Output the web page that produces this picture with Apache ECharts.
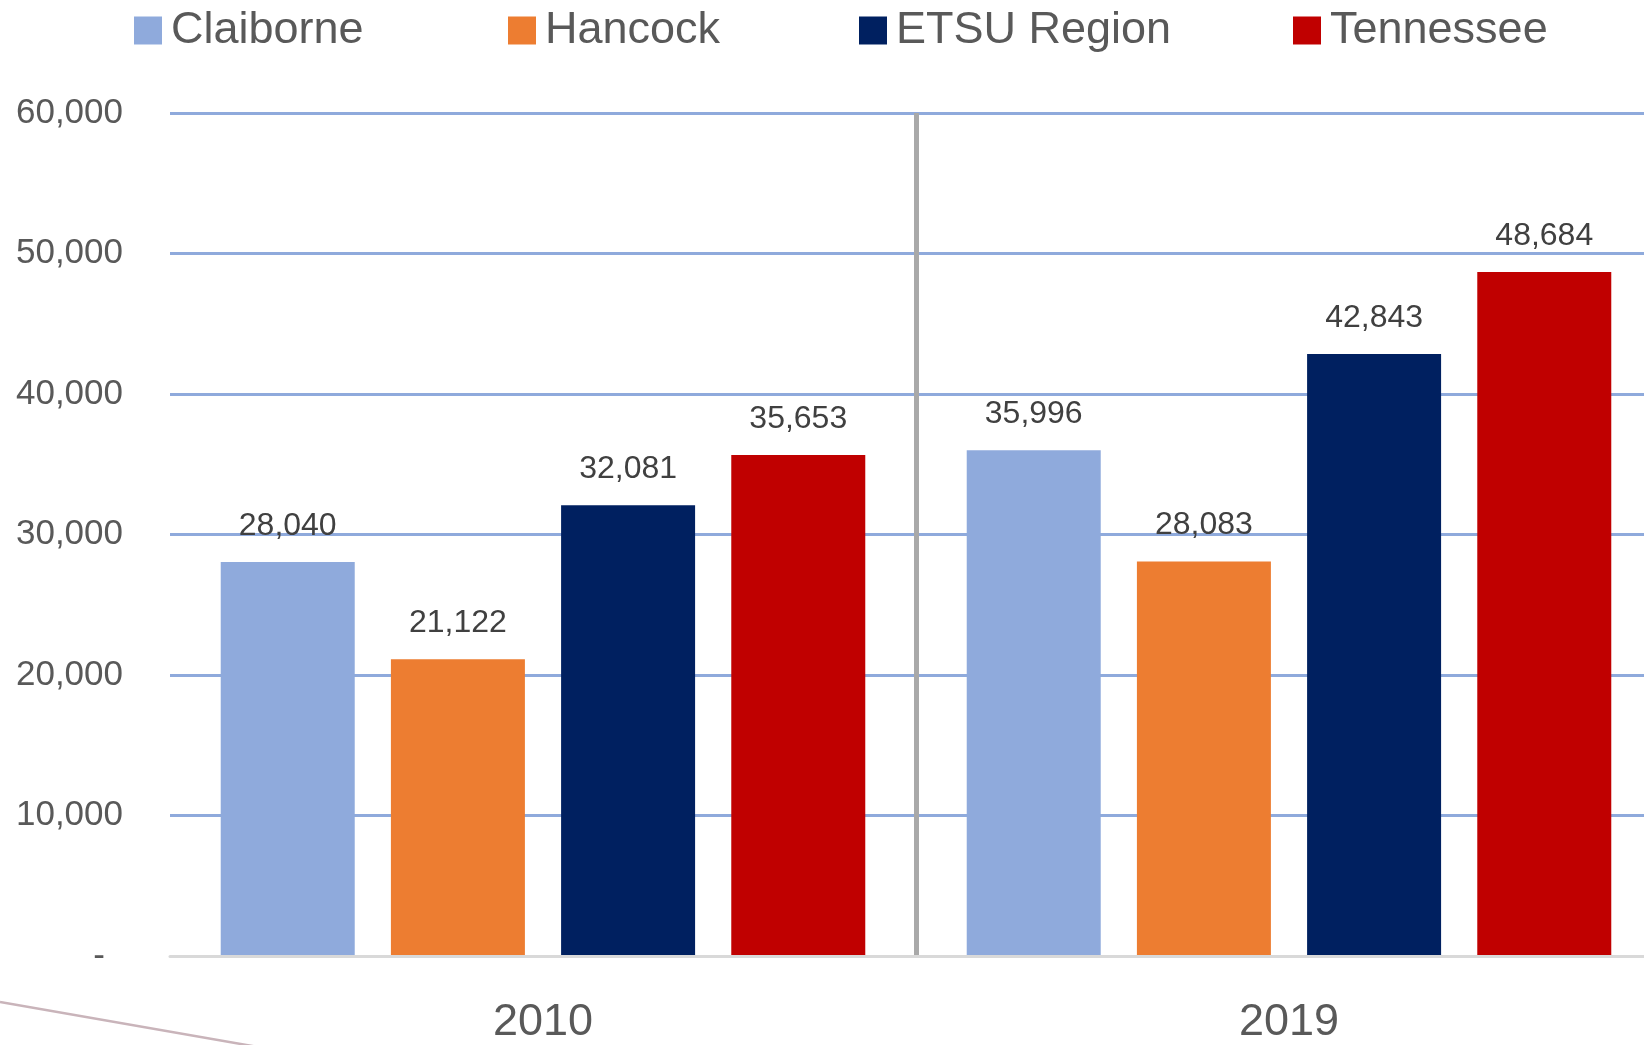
<!DOCTYPE html>
<html>
<head>
<meta charset="utf-8">
<script src="https://cdn.jsdelivr.net/npm/echarts@6/dist/echarts.min.js"></script>
<style>
  html, body { margin: 0; padding: 0; background: #fff; }
  #chart { width: 1644px; height: 1045px; }
</style>
</head>
<body>
<div id="chart"></div>
<script>
var years = ['2010', '2019'];
var seriesNames = ['Claiborne', 'Hancock', 'ETSU Region', 'Tennessee'];
var claiborne = [28040, 35996];
var hancock = [21122, 28083];
var etsu = [32081, 42843];
var tennessee = [35653, 48684];
var yTicks = [0, 10000, 20000, 30000, 40000, 50000, 60000];

var colors = ['#8FAADC', '#ED7D31', '#002060', '#C00000'];
var legendLeft = [129, 503, 854, 1288];
var FONT = 'Liberation Sans';

var chart = echarts.init(document.getElementById('chart'));

function fmt(v) {
    return Number(v).toLocaleString('en-US');
}

var values = [claiborne, hancock, etsu, tennessee];

var option = {
    animation: false,
    backgroundColor: '#fff',
    legend: seriesNames.map(function (name, i) {
        return {
            data: [name],
            left: legendLeft[i],
            top: 3,
            icon: 'rect',
            itemWidth: 28,
            itemHeight: 28,
            selectedMode: false,
            textStyle: {
                fontFamily: FONT,
                fontSize: 45,
                color: '#595959',
                padding: [0, 0, 0, 4]
            }
        };
    }),
    grid: {
        left: 170,
        top: 113,
        bottom: 89,
        width: 1492,
        outerBoundsMode: 'none',
        containLabel: false
    },
    xAxis: {
        type: 'category',
        data: years,
        z: 3,
        axisTick: { show: false },
        axisLine: {
            lineStyle: { color: '#D9D9D9', width: 3 }
        },
        axisLabel: {
            margin: 44,
            fontFamily: FONT,
            fontSize: 45,
            color: '#595959'
        },
        splitLine: {
            show: true,
            interval: 0,
            lineStyle: {
                color: ['rgba(0,0,0,0)', '#A9A9A9', 'rgba(0,0,0,0)'],
                width: 5
            }
        }
    },
    yAxis: {
        type: 'value',
        min: yTicks[0],
        max: yTicks[yTicks.length - 1],
        interval: yTicks[1] - yTicks[0],
        axisLine: { show: false },
        axisTick: { show: false },
        axisLabel: {
            margin: 47,
            fontFamily: FONT,
            fontSize: 35,
            color: '#595959',
            formatter: function (v) {
                return v === 0 ? '{z|-}' : fmt(v);
            },
            rich: {
                z: { fontFamily: FONT, fontSize: 35, color: '#595959', padding: [0, 18, 0, 0] }
            }
        },
        splitLine: {
            lineStyle: { color: '#8FAADC', width: 3 }
        }
    },
    series: seriesNames.map(function (name, i) {
        return {
            name: name,
            type: 'bar',
            barWidth: 134,
            barGap: '27%',
            itemStyle: { color: colors[i] },
            label: {
                show: true,
                position: 'top',
                distance: 20,
                fontFamily: FONT,
                fontSize: 32,
                color: '#404040',
                formatter: function (p) { return fmt(p.value); }
            },
            data: values[i]
        };
    }),
    graphic: [{
        type: 'line',
        silent: true,
        shape: { x1: 0, y1: 1002, x2: 258, y2: 1047 },
        style: { stroke: '#C9B4BA', lineWidth: 2.5 }
    }]
};

chart.setOption(option);

window.addEventListener('resize', function () {
    chart.resize();
});
</script>
</body>
</html>
